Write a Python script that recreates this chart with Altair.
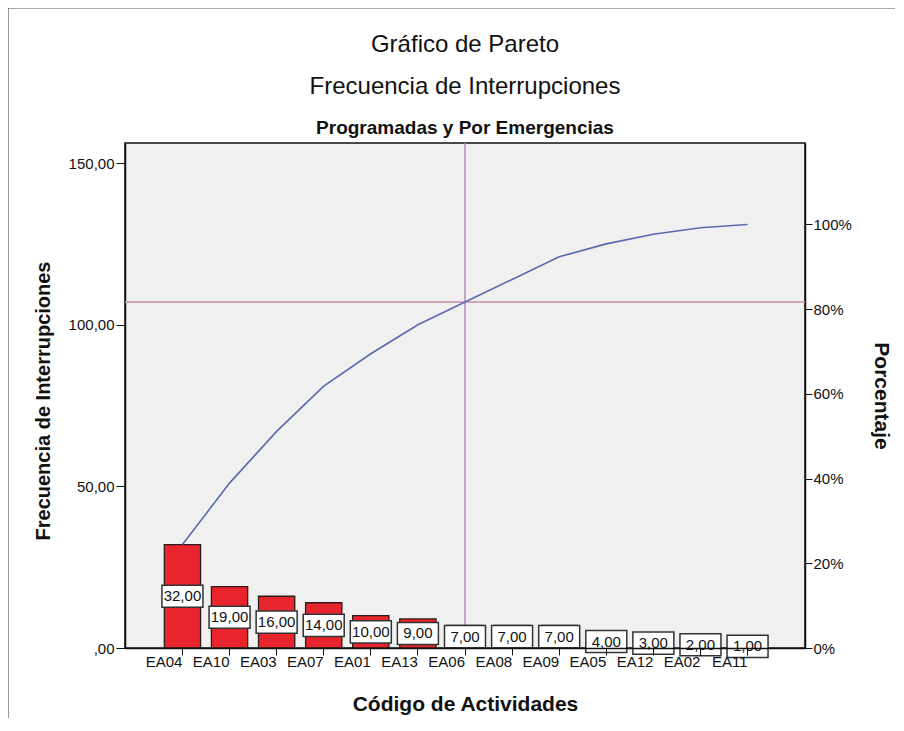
import altair as alt
import pandas as pd

categories = ["EA04", "EA10", "EA03", "EA07", "EA01", "EA13", "EA06", "EA08", "EA09", "EA05", "EA12", "EA02", "EA11"]
counts = [32, 19, 16, 14, 10, 9, 7, 7, 7, 4, 3, 2, 1]
title_lines = ["Gráfico de Pareto", "Frecuencia de Interrupciones", "Programadas y Por Emergencias"]
left_ticks = [0, 50, 100, 150]
right_ticks = [0, 0.2, 0.4, 0.6, 0.8, 1.0]
x_title = "Código de Actividades"
y_title = "Frecuencia de Interrupciones"
y2_title = "Porcentaje"

total = sum(counts)
cum = []
s = 0
for c in counts:
    s += c
    cum.append(s)

df = pd.DataFrame({
    "cat": categories,
    "count": counts,
    "half": [c / 2 for c in counts],
    "label": [f"{c:.2f}".replace(".", ",") for c in counts],
    "cum": cum,
    "pct": [v / total for v in cum],
})

cut_idx = next(i for i, v in enumerate(cum) if v / total >= 0.8)
cut_df = pd.DataFrame({"cat": [categories[cut_idx]], "cum": [cum[cut_idx]]})

YMAX = 156.2
W, H = 680, 505
FONT = "Liberation Sans"

xenc = alt.X("cat:N", sort=categories, title=x_title,
             scale=alt.Scale(paddingInner=0.23, paddingOuter=0.835),
             axis=alt.Axis(labelAngle=0, tickSize=7, labelPadding=6, labelFontSize=15,
                           titleFontSize=21, titleFontWeight="bold", titleY=56, titleBaseline="middle",
                           domainColor="#111", tickColor="#111", labelColor="#111", titleColor="#111",
                           domainWidth=1.5, zindex=1))
yscale = alt.Scale(domain=[0, YMAX], nice=False)

bars = alt.Chart(df).mark_bar(color="#e8242c", stroke="#2e1a1a", strokeWidth=1.3).encode(
    x=xenc,
    y=alt.Y("count:Q", scale=yscale, title=y_title,
            axis=alt.Axis(values=left_ticks, tickSize=9, labelPadding=2, labelFontSize=15,
                          labelExpr="datum.value == 0 ? ',00' : replace(format(datum.value, '.2f'), '.', ',')",
                          titleFontSize=20, titleFontWeight="bold", titleX=-82, titleY=H / 2 + 5,
                          titleBaseline="middle", titleAngle=-90, grid=False,
                          domainColor="#111", tickColor="#111", labelColor="#111", titleColor="#111",
                          domainWidth=1.5)),
)

boxes = alt.Chart(df).mark_point(shape="M-1,-0.54L1,-0.54L1,0.54L-1,0.54Z", size=1680, filled=True,
                                  fill="white", fillOpacity=1, stroke="#333333", strokeWidth=1.5,
                                  opacity=1).encode(
    x=alt.X("cat:N", sort=categories),
    y=alt.Y("half:Q", scale=yscale),
)

labels = alt.Chart(df).mark_text(fontSize=15, color="#111", baseline="middle", align="center").encode(
    x=alt.X("cat:N", sort=categories),
    y=alt.Y("half:Q", scale=yscale),
    text="label:N",
)

vrule = alt.Chart(cut_df).mark_rule(color="#b48ab8", strokeWidth=1.5).encode(
    x=alt.X("cat:N", sort=categories),
)
hrule = alt.Chart(cut_df).mark_rule(color="#c490ac", strokeWidth=1.5).encode(
    y=alt.Y("cum:Q", scale=yscale),
)

left_layer = alt.layer(vrule, hrule, bars, boxes, labels)

line = alt.Chart(df).mark_line(color="#5a6aae", strokeWidth=1.6).encode(
    x=alt.X("cat:N", sort=categories),
    y=alt.Y("pct:Q", scale=alt.Scale(domain=[0, YMAX / total], nice=False), title=y2_title,
            axis=alt.Axis(orient="right", values=right_ticks, format=".0%", tickSize=7, labelPadding=1,
                          labelFontSize=15, titleFontSize=21, titleFontWeight="bold", titleX=75,
                          titleY=H / 2, titleBaseline="middle", titleAngle=90, grid=False,
                          domainColor="#111", tickColor="#111", labelColor="#111", titleColor="#111",
                          domainWidth=1.5)),
)

tdf = pd.DataFrame({"t": title_lines})
t1 = alt.Chart(tdf.iloc[[0]]).mark_text(fontSize=24, color="#111").encode(
    x=alt.value(W / 2), y=alt.value(-98), text="t:N")
t2 = alt.Chart(tdf.iloc[[1]]).mark_text(fontSize=24, color="#111").encode(
    x=alt.value(W / 2), y=alt.value(-56), text="t:N")
t3 = alt.Chart(tdf.iloc[[2]]).mark_text(fontSize=19, fontWeight="bold", color="#111").encode(
    x=alt.value(W / 2), y=alt.value(-15), text="t:N")

frame_df = pd.DataFrame({"k": [1]})
fl = alt.Chart(frame_df).mark_rule(color="#555", strokeWidth=1.2).encode(
    x=alt.value(-117), y=alt.value(-135), y2=alt.value(590))
ft = alt.Chart(frame_df).mark_rule(color="#555", strokeWidth=1.2).encode(
    x=alt.value(-117), x2=alt.value(775), y=alt.value(-135))

chart = alt.layer(left_layer, line, t1, t2, t3, fl, ft).resolve_scale(y="independent").properties(
    width=W, height=H,
    padding={"left": 117, "top": 135, "right": 90, "bottom": 70},
    autosize=alt.AutoSizeParams(type="none"),
).configure(font=FONT).configure_view(fill="#f0f0f0", stroke="#111", strokeWidth=1.5)

chart.save("out.html", embed_options={"renderer": "svg", "actions": False})
